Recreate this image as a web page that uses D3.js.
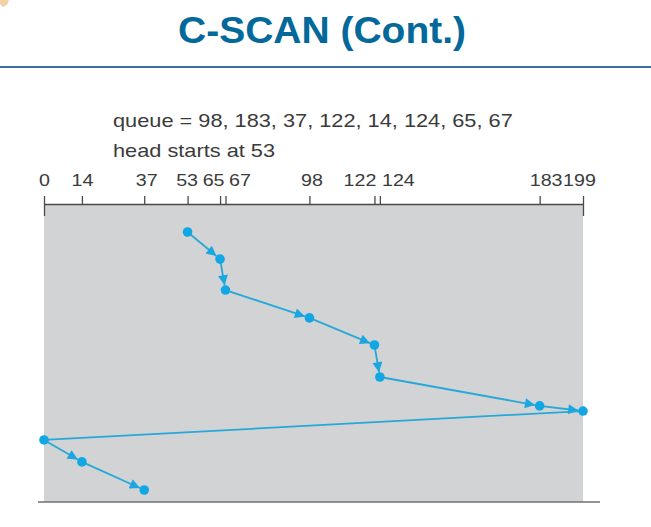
<!DOCTYPE html>
<html>
<head>
<meta charset="utf-8">
<script src="https://cdn.jsdelivr.net/npm/d3@7"></script>
<style>
  html, body { margin: 0; padding: 0; background: #ffffff; }
  svg { display: block; }
</style>
</head>
<body>
<script>
// ---- data ----
const titleText = "C-SCAN (Cont.)";
const queue = [98, 183, 37, 122, 14, 124, 65, 67];
const headStart = 53;
const cylinderDomain = [0, 199];
const tickValues = [0, 14, 37, 53, 65, 67, 98, 122, 124, 183, 199];
const serviceOrder = [53, 65, 67, 98, 122, 124, 183, 199, 0, 14, 37];
const serviceTime = [0, 1.05, 2.25, 3.33, 4.38, 5.62, 6.74, 6.94, 8.06, 8.91, 10];

// ---- layout / style ----
const W = 651, H = 527;
const stretch = 1.17;
const labelDx = {37: 2, 53: -1, 65: -7, 67: 14, 98: 2, 122: -15, 124: 18, 183: 6, 199: -4};
const pathColor = "#1aa7df";

const svg = d3.select("body").append("svg").attr("width", W).attr("height", H);

// small orange decoration top-left
svg.append("path").attr("d", "M0,0 L9,0 L7,5 L3,7 L0,4 Z").attr("fill", "#e7b46a").attr("opacity", 0.6);

// title
svg.append("text")
  .attr("x", 322).attr("y", 43)
  .attr("text-anchor", "middle")
  .attr("font-family", "'Liberation Sans', Arial, sans-serif")
  .attr("font-weight", "bold")
  .attr("font-size", 36)
  .attr("fill", "#03689a")
  .attr("textLength", 288)
  .attr("lengthAdjust", "spacingAndGlyphs")
  .text(titleText);

svg.append("line")
  .attr("x1", 0).attr("x2", W).attr("y1", 67).attr("y2", 67)
  .attr("stroke", "#3a70a3").attr("stroke-width", 2);

// scales
const x = d3.scaleLinear().domain(cylinderDomain).range([44, 583]);
const y = d3.scaleLinear().domain([0, 10]).range([232, 490]);

const axisY = 204, plotBottom = 502;

// plot background
svg.append("rect")
  .attr("x", x(cylinderDomain[0])).attr("y", axisY)
  .attr("width", x(cylinderDomain[1]) - x(cylinderDomain[0]))
  .attr("height", plotBottom - axisY)
  .attr("fill", "#d1d3d4");

// bottom rule
svg.append("line")
  .attr("x1", 38).attr("x2", 600).attr("y1", plotBottom).attr("y2", plotBottom)
  .attr("stroke", "#6e7072").attr("stroke-width", 1.5);

// header texts
const textFont = "'Liberation Sans', Arial, Helvetica, sans-serif";
const hdr = [
  {t: "queue = " + queue.join(", "), yy: 127},
  {t: "head starts at " + headStart, yy: 157}
];
hdr.forEach(h => {
  svg.append("g").attr("transform", `translate(113,${h.yy})`)
    .append("text")
    .attr("transform", `scale(${stretch},1)`)
    .attr("font-family", textFont)
    .attr("font-size", 18.6)
    .attr("fill", "#3b3b3b")
    .text(h.t);
});

// axis
const axis = d3.axisTop(x)
  .tickValues(tickValues)
  .tickSize(8)
  .tickSizeOuter(0)
  .tickPadding(10)
  .tickFormat(d3.format("d"));

const gAxis = svg.append("g").attr("transform", `translate(0,${axisY})`).call(axis);
gAxis.select(".domain").attr("stroke", "#4a4a4a").attr("stroke-width", 1.5);
gAxis.selectAll(".tick line").attr("stroke", "#4a4a4a").attr("stroke-width", 1.3);
gAxis.selectAll(".tick text")
  .attr("font-family", textFont)
  .attr("font-size", 16.8)
  .attr("fill", "#3b3b3b")
  .attr("transform", `scale(${stretch},1)`)
  .attr("dx", d => (labelDx[d] || 0) / stretch);

// end ticks extending below the axis
gAxis.selectAll(".tick")
  .filter(d => d === cylinderDomain[0] || d === cylinderDomain[1])
  .append("line")
  .attr("y1", 0).attr("y2", 12)
  .attr("stroke", "#4a4a4a").attr("stroke-width", 1.3);

// service path
const pts = serviceOrder.map((c, i) => ({c, t: serviceTime[i]}));
const segs = d3.pairs(pts);

svg.append("defs").append("marker")
  .attr("id", "arrow")
  .attr("viewBox", "0 0 10 10")
  .attr("refX", 10).attr("refY", 5)
  .attr("markerWidth", 13).attr("markerHeight", 10)
  .attr("markerUnits", "userSpaceOnUse")
  .attr("orient", "auto")
  .append("path").attr("d", "M0,0 L10,5 L0,10 Z").attr("fill", pathColor);

const r = 4.8;
svg.append("g").selectAll("line").data(segs).join("line")
  .each(function([a, b]) {
    const x1 = x(a.c), y1 = y(a.t), x2 = x(b.c), y2 = y(b.t);
    const len = Math.hypot(x2 - x1, y2 - y1);
    const forward = b.c > a.c;
    const k = forward ? (len - r) / len : 1;
    d3.select(this)
      .attr("x1", x1).attr("y1", y1)
      .attr("x2", x1 + (x2 - x1) * k).attr("y2", y1 + (y2 - y1) * k)
      .attr("marker-end", forward ? "url(#arrow)" : null);
  })
  .attr("stroke", "#26a8d8").attr("stroke-width", 1.8);

svg.append("g").selectAll("circle").data(pts).join("circle")
  .attr("cx", d => x(d.c)).attr("cy", d => y(d.t)).attr("r", r)
  .attr("fill", "#10a7e4");
</script>
</body>
</html>
